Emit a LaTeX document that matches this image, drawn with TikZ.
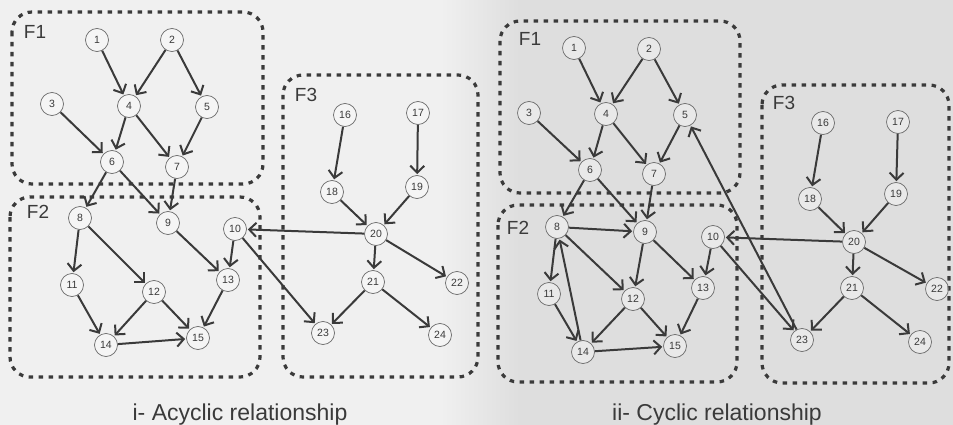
\documentclass[tikz,border=0pt]{standalone}
\usepackage{fontspec}
\setmainfont{Liberation Sans}
\usetikzlibrary{arrows.meta}
\definecolor{bgl}{HTML}{F0F0F0}
\definecolor{bgr}{HTML}{DEDEDE}
\definecolor{ink}{HTML}{3A3A3A}
\definecolor{ring}{HTML}{6A6A6A}
\tikzset{
  nd/.style={circle,draw=ring,line width=0.7pt,fill=white,fill opacity=0.35,text opacity=1,
    minimum size=23pt,inner sep=0pt,text=ink,font=\fontsize{10.5}{10.5}\selectfont},
  edge/.style={draw=ink,line width=2pt,-{Straight Barb[length=7pt,width=14pt,line width=2pt]},shorten >=1pt},
  grp/.style={draw=ink,line width=3.2pt,dash pattern=on 4.5pt off 5.5pt,rounded corners=20pt},
  glabel/.style={text=ink,font=\fontsize{19}{19}\selectfont,inner sep=0pt},
  captext/.style={text=ink,font=\fontsize{23}{23}\selectfont,inner sep=0pt,anchor=base}
}
\begin{document}
\begin{tikzpicture}[x=1pt,y=-1pt]
\useasboundingbox (0,0) rectangle (953,425);
\fill[bgl] (0,0) rectangle (440,425);
\shade[left color=bgl,right color=bgr] (440,0) rectangle (520,425);
\fill[bgr] (520,0) rectangle (953,425);

% group boxes, left
\draw[grp] (12,12) rectangle (263,184);
\draw[grp] (10,197) rectangle (260,377);
\draw[grp] (283,75) rectangle (478,377);
\node[glabel] (lf1) at (35,32) {F1};
\node[glabel] (lf2) at (38,212) {F2};
\node[glabel] (lf3) at (306,95) {F3};
% group boxes, right
\draw[grp] (500,21) rectangle (740,193);
\draw[grp] (498,205) rectangle (737,382);
\draw[grp] (762,85) rectangle (949,383);
\node[glabel] (rf1) at (530,39) {F1};
\node[glabel] (rf2) at (518,228) {F2};
\node[glabel] (rf3) at (784,103) {F3};

% left nodes
\foreach \n/\x/\y in {1/97/40,2/172/40,3/52/104,4/129/106,5/207/107,6/112/162,7/177/167,
  8/80/218,9/168/223,10/235/229,11/72/285,12/154/292,13/228/280,14/106/345,15/198/338,
  16/345/115,17/418/113,18/332/192,19/417/187,20/376/234,21/373/282,22/457/283,23/323/333,24/440/335}
  \node[nd] (a\n) at (\x,\y) {\n};
% right nodes
\foreach \n/\x/\y in {1/574/48,2/649/49,3/529/113,4/606/114,5/685/115,6/590/170,7/654/174,
  8/557/227,9/645/232,10/713/237,11/549/294,12/633/299,13/703/288,14/583/352,15/675/346,
  16/823/123,17/898/122,18/810/199,19/896/194,20/854/242,21/852/288,22/937/289,23/802/340,24/920/342}
  \node[nd] (b\n) at (\x,\y) {\n};

% left edges
\foreach \s/\t in {1/4,2/4,2/5,3/6,4/6,4/7,5/7,6/8,6/9,7/9,8/11,8/12,9/13,10/13,10/23,
  11/14,12/14,12/15,13/15,14/15,16/18,17/19,18/20,19/20,20/10,20/21,20/22,21/23,21/24}
  \draw[edge] (a\s) -- (a\t);
% right edges
\foreach \s/\t in {1/4,2/4,2/5,3/6,4/6,4/7,5/7,6/8,6/9,7/9,8/9,8/11,8/12,9/12,9/13,10/13,10/23,
  11/14,14/8,12/14,12/15,13/15,14/15,16/18,17/19,18/20,19/20,20/10,20/21,20/22,21/23,21/24,23/5}
  \draw[edge] (b\s) -- (b\t);

% captions
\node[captext] (c1) at (240,420) {i- Acyclic relationship};
\node[captext] (c2) at (717,420) {ii- Cyclic relationship};
\end{tikzpicture}
\end{document}
